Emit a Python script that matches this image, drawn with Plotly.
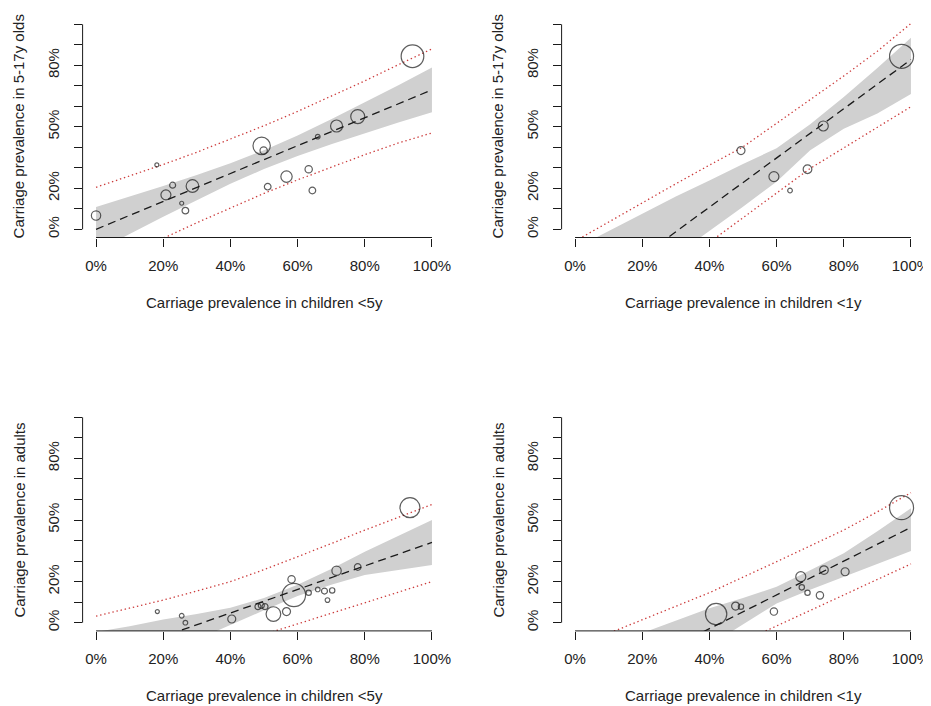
import plotly.graph_objects as go

# The page body has an 8px default margin, so the figure is sized to the
# remaining visible area and all pixel positions are measured from there.
PAGE_W, PAGE_H = 931, 706
OFF = 8
W, H = PAGE_W - OFF, PAGE_H - OFF

# ---------------- data ----------------
x_grid = [0.0, 0.1, 0.2, 0.3, 0.4, 0.5, 0.6, 0.7, 0.8, 0.9, 1.0]

x_tick_vals = [0.0, 0.2, 0.4, 0.6, 0.8, 1.0]
x_tick_text = ["0%", "20%", "40%", "60%", "80%", "100%"]
y_tick_vals = [0.0, 0.1, 0.2, 0.3, 0.4, 0.5, 0.6, 0.7, 0.8, 0.9, 1.0]
y_tick_text = ["0%", "", "20%", "", "", "50%", "", "", "80%", "", ""]

# Panel A: 5-17y olds vs children <5y
a_x = [0.000, 0.181, 0.208, 0.228, 0.255, 0.266, 0.287, 0.493, 0.499, 0.511, 0.567, 0.633, 0.644, 0.660, 0.716, 0.779, 0.942]
a_y = [0.067, 0.314, 0.168, 0.215, 0.127, 0.091, 0.211, 0.407, 0.384, 0.208, 0.257, 0.293, 0.189, 0.452, 0.504, 0.550, 0.844]
a_w = [14, 6, 15, 9, 6, 10, 19, 26, 11, 10, 17, 11, 10, 7, 18, 21, 34]
a_fit = [0.000, 0.068, 0.136, 0.204, 0.272, 0.340, 0.408, 0.476, 0.544, 0.612, 0.680]
a_ci_lo = [-0.109, -0.023, 0.061, 0.143, 0.222, 0.294, 0.358, 0.415, 0.469, 0.521, 0.571]
a_ci_hi = [0.109, 0.159, 0.211, 0.265, 0.322, 0.386, 0.458, 0.537, 0.619, 0.703, 0.789]
a_pi_lo = [-0.205, -0.123, -0.044, 0.032, 0.105, 0.175, 0.241, 0.304, 0.364, 0.421, 0.470]
a_pi_hi = [0.205, 0.259, 0.316, 0.376, 0.439, 0.505, 0.575, 0.648, 0.724, 0.803, 0.880]

# Panel B: 5-17y olds vs children <1y
b_x = [0.494, 0.592, 0.640, 0.692, 0.739, 0.972]
b_y = [0.384, 0.257, 0.189, 0.293, 0.504, 0.844]
b_w = [12, 15, 7, 13, 15, 36]
b_fit = [-0.372, -0.252, -0.132, -0.012, 0.108, 0.228, 0.348, 0.468, 0.588, 0.708, 0.828]
b_ci_lo = [-0.480, -0.360, -0.240, -0.125, -0.006, 0.110, 0.232, 0.385, 0.490, 0.565, 0.660]
b_ci_hi = [-0.093, -0.009, 0.076, 0.160, 0.238, 0.319, 0.395, 0.512, 0.645, 0.787, 0.935]
b_pi_lo = [-0.545, -0.425, -0.305, -0.185, -0.065, 0.055, 0.178, 0.297, 0.397, 0.499, 0.598]
b_pi_hi = [-0.058, 0.036, 0.128, 0.222, 0.313, 0.402, 0.517, 0.632, 0.748, 0.869, 1.004]

# Panel C: adults vs children <5y
c_x = [0.1825, 0.255, 0.266, 0.404, 0.482, 0.492, 0.503, 0.528, 0.567, 0.582, 0.589, 0.633, 0.660, 0.680, 0.689, 0.703, 0.716, 0.779, 0.9345]
c_y = [0.054, 0.034, 0.000, 0.018, 0.078, 0.084, 0.078, 0.042, 0.054, 0.211, 0.135, 0.146, 0.162, 0.154, 0.110, 0.157, 0.253, 0.271, 0.560]
c_w = [6, 7, 7, 12, 9, 9, 9, 22, 12, 11, 35, 8, 7, 9, 7, 8, 14, 10, 30]
c_fit = [-0.182, -0.125, -0.067, -0.010, 0.047, 0.105, 0.162, 0.219, 0.276, 0.334, 0.391]
c_ci_lo = [-0.296, -0.225, -0.154, -0.083, -0.012, 0.060, 0.130, 0.185, 0.232, 0.258, 0.281]
c_ci_hi = [-0.045, -0.017, 0.016, 0.042, 0.073, 0.120, 0.185, 0.262, 0.346, 0.424, 0.500]
c_pi_lo = [-0.310, -0.260, -0.210, -0.160, -0.108, -0.057, -0.006, 0.046, 0.097, 0.149, 0.200]
c_pi_hi = [0.032, 0.070, 0.110, 0.154, 0.200, 0.258, 0.321, 0.385, 0.451, 0.513, 0.576]

# Panel D: adults vs children <1y
d_x = [0.420, 0.478, 0.494, 0.592, 0.672, 0.675, 0.692, 0.729, 0.741, 0.804, 0.972]
d_y = [0.042, 0.081, 0.078, 0.054, 0.224, 0.172, 0.146, 0.133, 0.256, 0.248, 0.560]
d_w = [32, 12, 8, 11, 15, 8, 8, 11, 13, 12, 36]
d_fit = [-0.358, -0.276, -0.194, -0.111, -0.029, 0.053, 0.135, 0.217, 0.300, 0.382, 0.464]
d_ci_lo = [-0.520, -0.420, -0.320, -0.216, -0.113, -0.010, 0.094, 0.160, 0.224, 0.287, 0.349]
d_ci_hi = [-0.171, -0.111, -0.051, 0.010, 0.070, 0.120, 0.175, 0.255, 0.338, 0.445, 0.557]
d_pi_lo = [-0.470, -0.390, -0.320, -0.240, -0.167, -0.091, -0.016, 0.060, 0.135, 0.210, 0.286]
d_pi_hi = [-0.118, -0.053, 0.013, 0.080, 0.146, 0.220, 0.297, 0.374, 0.451, 0.540, 0.633]

x_title_5 = "Carriage prevalence in children <5y"
x_title_1 = "Carriage prevalence in children <1y"
y_title_older = "Carriage prevalence in 5-17y olds"
y_title_adult = "Carriage prevalence in adults"

# ---------------- layout / styling ----------------
FONT = "Liberation Sans, Arial, sans-serif"
FS = 15
INK = "#1a1a1a"
TXT = "#222222"
BAND = "#d0d0d0"
RED = "#cc3b3b"
RNG = [-0.04, 1.04]

# plot regions in page pixels (left, right, top, bottom)
regions = {
    "a": (82.6, 445.4, 16.1, 237.5),
    "b": (561.6, 924.4, 16.1, 237.5),
    "c": (82.6, 445.4, 409.1, 630.9),
    "d": (561.6, 924.4, 409.1, 630.9),
}

panels = [
    ("a", a_x, a_y, a_w, a_fit, a_ci_lo, a_ci_hi, a_pi_lo, a_pi_hi, x_title_5, y_title_older),
    ("b", b_x, b_y, b_w, b_fit, b_ci_lo, b_ci_hi, b_pi_lo, b_pi_hi, x_title_1, y_title_older),
    ("c", c_x, c_y, c_w, c_fit, c_ci_lo, c_ci_hi, c_pi_lo, c_pi_hi, x_title_5, y_title_adult),
    ("d", d_x, d_y, d_w, d_fit, d_ci_lo, d_ci_hi, d_pi_lo, d_pi_hi, x_title_1, y_title_adult),
]


def fx(px):
    return (px - OFF) / W


def fy(py):
    return 1 - (py - OFF) / H


def dom_frac(v):
    return (v - RNG[0]) / (RNG[1] - RNG[0])


fig = go.Figure()
layout = dict(
    width=W, height=H,
    margin=dict(l=0, r=0, t=0, b=0, autoexpand=False),
    paper_bgcolor="white", plot_bgcolor="white",
    showlegend=False,
    font=dict(family=FONT, size=FS, color=TXT),
)
shapes = []
annotations = []

for i, (key, px, py, pw, fit, cilo, cihi, pilo, pihi, xt, yt) in enumerate(panels):
    n = "" if i == 0 else str(i + 1)
    xa, ya = "x" + n, "y" + n
    L, R, T, B = regions[key]
    layout["xaxis" + n] = dict(
        domain=[fx(L), fx(R)], anchor=ya, range=RNG, automargin=False,
        showgrid=False, zeroline=False, showline=False,
        ticks="outside", ticklen=8, tickwidth=1, tickcolor=INK,
        tickvals=x_tick_vals, ticktext=x_tick_text,
        tickfont=dict(size=FS, color=TXT, family=FONT),
        ticklabelstandoff=6,
    )
    layout["yaxis" + n] = dict(
        domain=[fy(B), fy(T)], anchor=xa, range=RNG, automargin=False,
        showgrid=False, zeroline=False, showline=False,
        ticks="outside", ticklen=8, tickwidth=1, tickcolor=INK,
        tickvals=y_tick_vals, ticktext=y_tick_text, tickangle=-90,
        tickfont=dict(size=FS, color=TXT, family=FONT),
        ticklabelstandoff=9,
    )
    # axis lines spanning only first to last tick (base R style)
    shapes.append(dict(type="line", xref=xa + " domain", yref=ya + " domain",
                       x0=dom_frac(x_tick_vals[0]), x1=dom_frac(x_tick_vals[-1]), y0=0, y1=0,
                       line=dict(color=INK, width=1), layer="above"))
    shapes.append(dict(type="line", xref=xa + " domain", yref=ya + " domain",
                       x0=0, x1=0, y0=dom_frac(y_tick_vals[0]), y1=dom_frac(y_tick_vals[-1]),
                       line=dict(color=INK, width=1), layer="above"))

    # confidence band
    fig.add_trace(go.Scatter(
        x=x_grid + x_grid[::-1], y=cihi + cilo[::-1],
        mode="lines", fill="toself", fillcolor=BAND,
        line=dict(width=0, color=BAND), xaxis=xa, yaxis=ya, hoverinfo="skip"))
    # prediction interval
    for arr in (pilo, pihi):
        fig.add_trace(go.Scatter(
            x=x_grid, y=arr, mode="lines",
            line=dict(color=RED, width=1.3, dash="1.4px,2.8px"),
            xaxis=xa, yaxis=ya, hoverinfo="skip"))
    # fitted line
    fig.add_trace(go.Scatter(
        x=x_grid, y=fit, mode="lines",
        line=dict(color=INK, width=1.3, dash="8px,5px"),
        xaxis=xa, yaxis=ya, hoverinfo="skip"))
    # study points
    fig.add_trace(go.Scatter(
        x=px, y=py, mode="markers",
        marker=dict(symbol="circle-open", size=[w * 2 / 3 for w in pw],
                    color=INK, line=dict(color=INK, width=1.2)),
        xaxis=xa, yaxis=ya))

    # axis titles
    annotations.append(dict(text=xt, xref="paper", yref="paper",
                            x=fx((L + R) / 2), y=fy(B + 65),
                            xanchor="center", yanchor="middle", showarrow=False,
                            font=dict(size=FS, color=TXT, family=FONT)))
    annotations.append(dict(text=yt, xref="paper", yref="paper",
                            x=fx(L - 64), y=fy((T + B) / 2), textangle=-90,
                            xanchor="center", yanchor="middle", showarrow=False,
                            font=dict(size=FS, color=TXT, family=FONT)))

layout["shapes"] = shapes
layout["annotations"] = annotations
fig.update_layout(**layout)
fig.write_html("out.html")
